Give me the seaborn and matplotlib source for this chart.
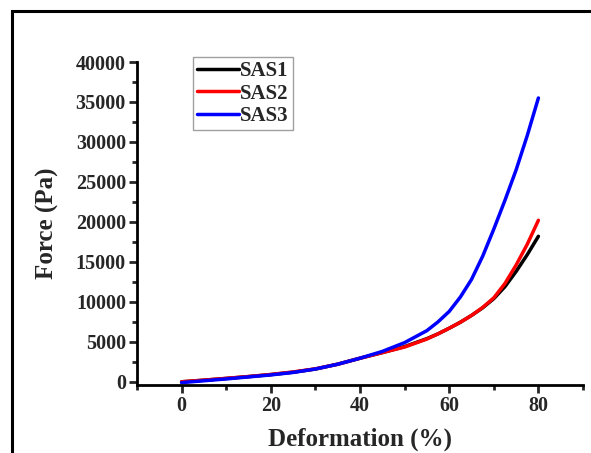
import matplotlib
matplotlib.use("Agg")
import matplotlib.pyplot as plt
import seaborn as sns
import pandas as pd
from matplotlib.patches import Rectangle
from matplotlib.ticker import MultipleLocator

deformation = [0, 5, 10, 15, 20, 25, 30, 35, 40, 45, 50, 55, 57.5, 60, 62.5, 65, 67.5, 70, 72.5, 75, 77.5, 80]
sas1 = [0, 200, 420, 650, 900, 1200, 1600, 2200, 2950, 3650, 4400, 5400, 6000, 6700, 7450, 8300, 9250, 10400, 11900, 13800, 15900, 18200]
sas2 = [0, 210, 430, 660, 920, 1230, 1620, 2200, 2950, 3650, 4350, 5350, 6000, 6700, 7450, 8300, 9300, 10500, 12300, 14600, 17200, 20200]
sas3 = [-100, 130, 360, 610, 860, 1170, 1600, 2200, 2950, 3800, 4900, 6400, 7500, 8800, 10600, 12800, 15700, 19100, 22700, 26500, 30800, 35500]
series = ["SAS1", "SAS2", "SAS3"]
colors = ["#000000", "#ff0000", "#0000ff"]

df = pd.concat([
    pd.DataFrame({"Deformation": deformation, "Force": vals, "Sample": name})
    for name, vals in zip(series, [sas1, sas2, sas3])
])

sns.set_style("ticks")
plt.rcParams["font.family"] = ["Liberation Serif", "DejaVu Serif"]
plt.rcParams["font.weight"] = "bold"

fig = plt.figure(figsize=(5.91, 4.53), dpi=100)
ax = fig.add_axes([137/591, 1-385/453, (583-137)/591, (385-62)/453])

sns.lineplot(data=df, x="Deformation", y="Force", hue="Sample", palette=colors,
             linewidth=2.5, ax=ax, legend=False, sort=True)

ax.set_xlim(-10, 90)
ax.set_ylim(-400, 40000)
ax.xaxis.set_major_locator(MultipleLocator(20))
ax.xaxis.set_minor_locator(MultipleLocator(10))
ax.yaxis.set_major_locator(MultipleLocator(5000))
ax.yaxis.set_minor_locator(MultipleLocator(2500))
ax.set_xticks([0, 20, 40, 60, 80])
ax.tick_params(axis="both", which="major", direction="out", length=6, width=2,
               labelsize=14.5, pad=2)
ax.tick_params(axis="both", which="minor", direction="out", length=3.5, width=2)
for lab in ax.get_xticklabels() + ax.get_yticklabels():
    lab.set_fontweight("bold")
for s in ["left", "bottom"]:
    ax.spines[s].set_linewidth(2)
    ax.spines[s].set_color("black")
ax.spines["top"].set_visible(False)
ax.spines["right"].set_visible(False)

ax.set_xlabel("Deformation (%)", fontsize=18, fontweight="bold", labelpad=8)
ax.set_ylabel("Force (Pa)", fontsize=18, fontweight="bold", labelpad=12)

handles = [plt.Line2D([], [], color=c, lw=2.5) for c in colors]
leg = fig.legend(handles, series, loc="upper left",
                 bbox_to_anchor=(193/591, 1-57/453), frameon=True,
                 fancybox=False, handlelength=2.0, handletextpad=0.05,
                 borderpad=0.2, labelspacing=0.12, borderaxespad=0,
                 prop={"weight": "bold", "size": 15})
leg.get_frame().set_edgecolor("#888888")
leg.get_frame().set_linewidth(1)

fig.patches.append(Rectangle((12/591, -0.1), 1.2, 1-11/453+0.1,
                             transform=fig.transFigure, fill=False,
                             edgecolor="black", linewidth=2.2, zorder=10))

fig.savefig("out.png", dpi=100)
